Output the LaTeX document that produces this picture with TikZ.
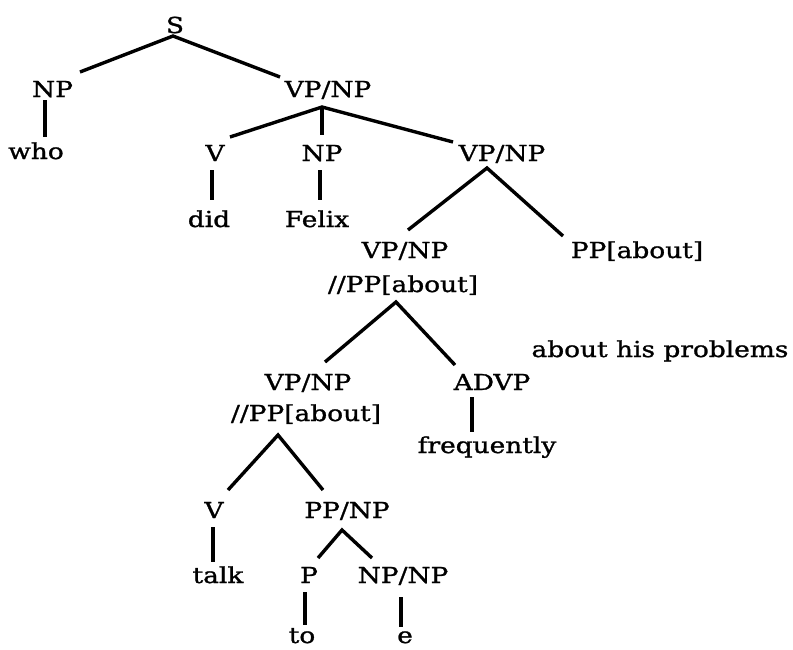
\documentclass[tikz,border=0pt]{standalone}
\usepackage{fontspec}
\setmainfont{DejaVu Serif}[FakeStretch=1.2,FakeBold=1.2]
\begin{document}
\begin{tikzpicture}[x=1pt,y=-1pt,
  lbl/.style={anchor=base,inner sep=0pt,font=\fontsize{22}{26}\selectfont},
  branch/.style={line width=3.4pt}]
\useasboundingbox (0,0) rectangle (793,649);

% labels (positioned by centre x and baseline y)
\node[lbl] (s)     at (175,33)  {S};
\node[lbl] (np1)   at (52.5,97) {NP};
\node[lbl] (who)   at (36,159)  {who};
\node[lbl] (vp1)   at (328,97)  {VP/NP};
\node[lbl] (v1)    at (215,161) {V};
\node[lbl] (np2)   at (322,161) {NP};
\node[lbl] (vp2)   at (502,161) {VP/NP};
\node[lbl] (did)   at (209,227) {did};
\node[lbl] (felix) at (317,227) {Felix};
\node[lbl] (vp3a)  at (405,258) {VP/NP};
\node[lbl] (vp3)   at (403,292) {//PP[about]};
\node[lbl] (pp1)   at (637,258) {PP[about]};
\node[lbl] (ahp)   at (660,357) {about his problems};
\node[lbl] (vp4a)  at (308,390) {VP/NP};
\node[lbl] (vp4)   at (306,421) {//PP[about]};
\node[lbl] (advp)  at (492,390) {ADVP};
\node[lbl] (freq)  at (487,453) {frequently};
\node[lbl] (v2)    at (214,518) {V};
\node[lbl] (ppnp)  at (347,518) {PP/NP};
\node[lbl] (talk)  at (218,583) {talk};
\node[lbl] (p)     at (309,583) {P};
\node[lbl] (npnp)  at (403,583) {NP/NP};
\node[lbl] (to)    at (302,643) {to};
\node[lbl] (e)     at (405,643) {e};

% branches
\draw[branch] ([shift={(27.5,-25)}]np1.base) -- ([shift={(-2,3)}]s.base)
              -- ([shift={(-48,-20)}]vp1.base);
\draw[branch] ([shift={(-7.5,3)}]np1.base) -- ([shift={(9,-22)}]who.base);
\draw[branch] ([shift={(15,-24)}]v1.base) -- ([shift={(-6,10)}]vp1.base)
              -- ([shift={(-49,-19)}]vp2.base);
\draw[branch] ([shift={(-6,10)}]vp1.base) -- ([shift={(0,-26)}]np2.base);
\draw[branch] ([shift={(-3,9)}]v1.base) -- ([shift={(3,-27)}]did.base);
\draw[branch] ([shift={(-2,9)}]np2.base) -- ([shift={(3,-27)}]felix.base);
\draw[branch] ([shift={(3,-28)}]vp3a.base) -- ([shift={(-15,7)}]vp2.base)
              -- ([shift={(-74,-22)}]pp1.base);
\draw[branch] ([shift={(17,-28)}]vp4a.base) -- ([shift={(-7,10)}]vp3.base)
              -- ([shift={(-37,-25)}]advp.base);
\draw[branch] ([shift={(-20,7)}]advp.base) -- ([shift={(-15,-21)}]freq.base);
\draw[branch] ([shift={(14,-28)}]v2.base) -- ([shift={(-28,14)}]vp4.base)
              -- ([shift={(-24,-28)}]ppnp.base);
\draw[branch] ([shift={(-1,9)}]v2.base) -- ([shift={(-5,-21)}]talk.base);
\draw[branch] ([shift={(9,-25)}]p.base) -- ([shift={(-5,12)}]ppnp.base)
              -- ([shift={(-31,-25)}]npnp.base);
\draw[branch] ([shift={(-4,9)}]p.base) -- ([shift={(3,-18)}]to.base);
\draw[branch] ([shift={(-2,14)}]npnp.base) -- ([shift={(-4,-16)}]e.base);
\end{tikzpicture}
\end{document}
